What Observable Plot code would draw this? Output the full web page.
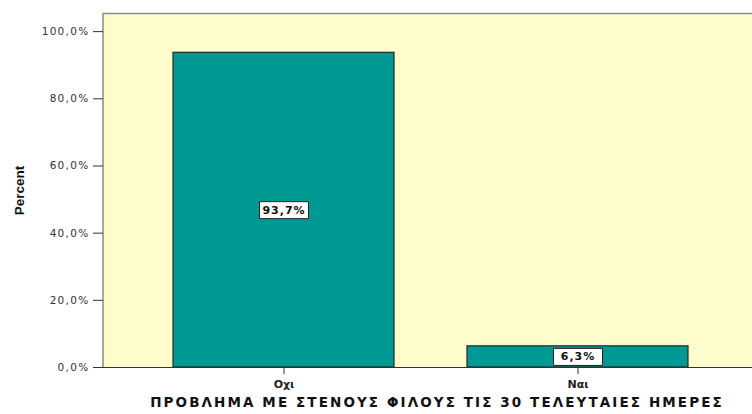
<!DOCTYPE html>
<html><head><meta charset="utf-8">
<script src="https://cdn.jsdelivr.net/npm/d3@7"></script>
<script src="https://cdn.jsdelivr.net/npm/@observablehq/plot@0.6"></script>
<style>body{margin:0;background:#fff;} svg{display:block;}</style>
</head><body>
<div id="chart"></div>
<script>
const categories = ["Οχι", "Ναι"];
const percents = [93.7, 6.3];
const yTicks = [0, 20, 40, 60, 80, 100];
const xTitle = "ΠΡΟΒΛΗΜΑ ΜΕ ΣΤΕΝΟΥΣ ΦΙΛΟΥΣ ΤΙΣ 30 ΤΕΛΕΥΤΑΙΕΣ ΗΜΕΡΕΣ";
const yTitle = "Percent";

const fmt = v => v.toFixed(1).replace(".", ",") + "%";
const data = categories.map((c, i) => ({cat: c, pct: percents[i], label: fmt(percents[i])}));

const boxSymbol = {draw(ctx) { ctx.rect(-24.5, -8.5, 49, 17); }};
const yMax = 105.4;

const chart = Plot.plot({
  width: 752, height: 414,
  marginLeft: 103, marginRight: 0, marginTop: 13, marginBottom: 47,
  style: {background: "#fff", fontFamily: "DejaVu Sans", color: "#222"},
  x: {domain: categories, range: [103, 758], paddingInner: 0.2475, paddingOuter: 0.234, axis: null},
  y: {domain: [0, yMax], axis: null},
  marks: [
    Plot.frame({fill: "#fffccc", stroke: "none"}),
    Plot.ruleY([yMax], {stroke: "#8a8a8a", strokeWidth: 1.5}),
    Plot.barY(data, {x: "cat", y: "pct", fill: "#009994", stroke: "#1e2a28", strokeWidth: 1.2}),
    Plot.ruleY([0], {stroke: "#333"}),
    Plot.axisY({ticks: yTicks, tickFormat: fmt, tickSize: 10, tickPadding: 4, fontSize: 10.5, stroke: "#333", fill: "#333", label: null}),
    Plot.axisX({tickSize: 7, tickPadding: 6, fontSize: 11, fontWeight: "bold", stroke: "#333", fill: "#222", label: null}),
    Plot.dot(data, {x: "cat", y: d => d.pct / 2, symbol: boxSymbol, r: 5, fill: "white", stroke: "#222", strokeWidth: 1}),
    Plot.text(data, {x: "cat", y: d => d.pct / 2, text: "label", fontSize: 11, fontWeight: "bold", fill: "#111", fontFamily: "DejaVu Sans"}),
    Plot.text([xTitle], {frameAnchor: "bottom", dy: 39.5, dx: 9, fontSize: 13.5, fontWeight: "bold", fill: "#111"}),
    Plot.text([yTitle], {frameAnchor: "left", textAnchor: "middle", dx: -84, rotate: -90, fontSize: 13.5, fontWeight: "bold", fill: "#111", fontFamily: "Liberation Sans Narrow, Liberation Sans"})
  ]
});
document.getElementById("chart").append(chart);
const svg = d3.select(chart);
// left axis line
svg.insert("line", "g[aria-label='bar']")
  .attr("x1", 103).attr("x2", 103).attr("y1", 13).attr("y2", 367)
  .attr("stroke", "#8a8a8a").attr("stroke-width", 1.5);
svg.selectAll("g[aria-label='text'] text").filter(function(){ return this.textContent.includes("%"); })
  .style("letter-spacing", "1px");
svg.selectAll("g[aria-label='y-axis tick label'] text").style("letter-spacing", "1.3px");
svg.selectAll("g[aria-label='text'] text").filter(function(){ return this.textContent === xTitle; })
  .style("letter-spacing", "2.1px");
</script>
</body></html>
